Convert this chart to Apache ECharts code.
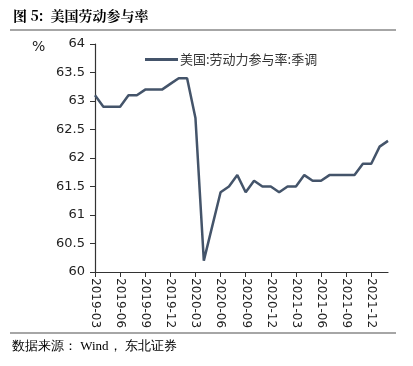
<!DOCTYPE html>
<html>
<head>
<meta charset="utf-8">
<script src="https://cdn.jsdelivr.net/npm/echarts@6/dist/echarts.min.js"></script>
<style>
  html, body { margin: 0; padding: 0; background: #fff; }
  #chart { width: 413px; height: 366px; }
</style>
</head>
<body>
<div id="chart"></div>
<script>
const months = [
  '2019-03', '2019-04', '2019-05', '2019-06', '2019-07', '2019-08', '2019-09', '2019-10', '2019-11', '2019-12',
  '2020-01', '2020-02', '2020-03', '2020-04', '2020-05', '2020-06', '2020-07', '2020-08', '2020-09', '2020-10',
  '2020-11', '2020-12', '2021-01', '2021-02', '2021-03', '2021-04', '2021-05', '2021-06', '2021-07', '2021-08',
  '2021-09', '2021-10', '2021-11', '2021-12', '2022-01', '2022-02'
];
const lfpr = [
  63.1, 62.9, 62.9, 62.9, 63.1, 63.1, 63.2, 63.2, 63.2, 63.3,
  63.4, 63.4, 62.7, 60.2, 60.8, 61.4, 61.5, 61.7, 61.4, 61.6,
  61.5, 61.5, 61.4, 61.5, 61.5, 61.7, 61.6, 61.6, 61.7, 61.7,
  61.7, 61.7, 61.9, 61.9, 62.2, 62.3
];
const seriesName = '美国:劳动力参与率:季调';

const chart = echarts.init(document.getElementById('chart'));
const axisFont = 'Verdana, "DejaVu Sans", sans-serif';

chart.setOption({
  animation: false,
  title: {
    text: '图 5:  美国劳动参与率',
    left: 8,
    top: 4,
    textStyle: {
      fontFamily: '"Noto Serif CJK SC", "Noto Sans CJK SC", serif',
      fontSize: 14,
      fontWeight: 'bold',
      color: '#000'
    }
  },
  graphic: [
    { type: 'line', shape: { x1: 10, y1: 30, x2: 396, y2: 30 }, style: { stroke: '#888', lineWidth: 1.5 } },
    { type: 'line', shape: { x1: 10, y1: 333, x2: 396, y2: 333 }, style: { stroke: '#888', lineWidth: 1.5 } },
    {
      type: 'text', left: 12, top: 340,
      style: { text: '数据来源： Wind， 东北证券', fontSize: 13, fill: '#000', fontFamily: 'serif' }
    },
    {
      type: 'text', left: 32, top: 40,
      style: { text: '%', fontSize: 14, fill: '#222', fontFamily: axisFont }
    }
  ],
  legend: {
    top: 48,
    left: 140,
    itemWidth: 33,
    itemHeight: 10,
    itemGap: 4,
    icon: 'path://M0,0 L32,0 L32,3 L0,3 Z',
    textStyle: { fontSize: 13, color: '#333', fontFamily: '"Noto Sans CJK SC", sans-serif', padding: [0, 0, 0, -3] },
    data: [seriesName]
  },
  grid: { left: 95, right: 25, top: 44, bottom: 94 },
  xAxis: {
    type: 'category',
    data: months,
    boundaryGap: false,
    axisLine: { lineStyle: { color: '#333', width: 1.2 } },
    axisTick: { interval: 2, length: 5, lineStyle: { color: '#333' } },
    axisLabel: {
      interval: 2,
      rotate: -90,
      fontSize: 12,
      color: '#222',
      margin: 6,
      fontFamily: axisFont
    }
  },
  yAxis: {
    type: 'value',
    min: 60,
    max: 64,
    interval: 0.5,
    axisLine: { show: true, lineStyle: { color: '#333', width: 1.2 } },
    axisTick: { show: true, length: 5, lineStyle: { color: '#333' } },
    splitLine: { show: false },
    axisLabel: { fontSize: 13, color: '#222', margin: 10, fontFamily: axisFont }
  },
  series: [
    {
      name: seriesName,
      type: 'line',
      data: lfpr,
      showSymbol: false,
      symbol: 'none',
      lineStyle: { color: '#44546A', width: 2.5 },
      itemStyle: { color: '#44546A' }
    }
  ]
});
</script>
</body>
</html>
